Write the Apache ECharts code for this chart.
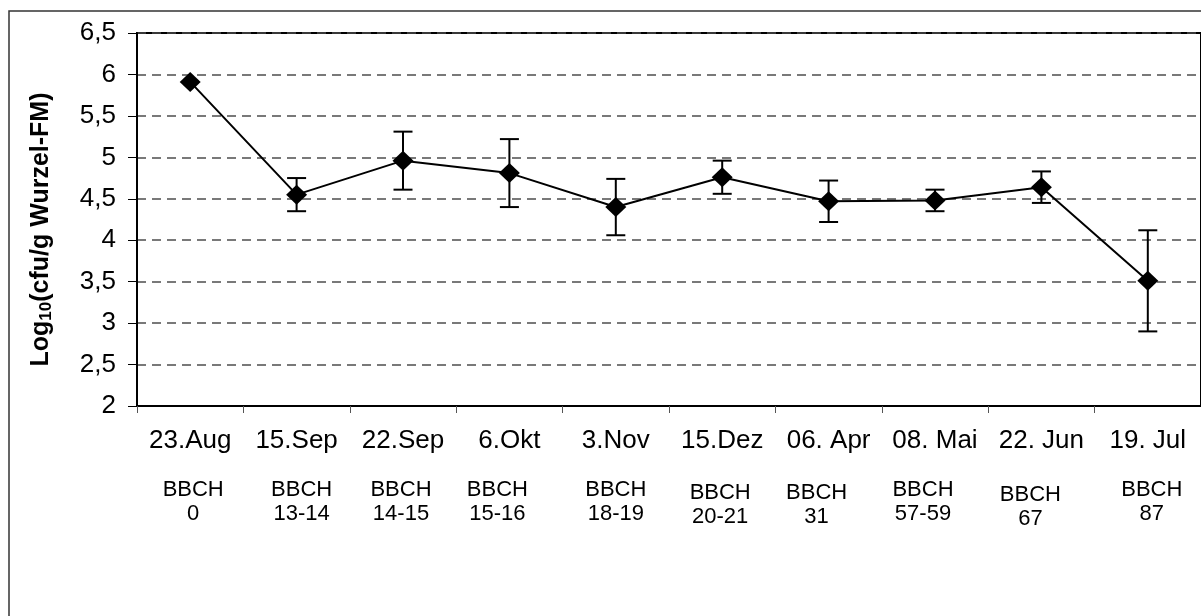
<!DOCTYPE html>
<html>
<head>
<meta charset="utf-8">
<script src="https://cdn.jsdelivr.net/npm/echarts@6/dist/echarts.min.js"></script>
<style>
  html, body { margin: 0; padding: 0; background: #fff; overflow: hidden; }
  #chart { width: 1201px; height: 616px; }
</style>
</head>
<body>
<div id="chart"></div>
<script>
// Sampling dates and growth stages
const dates = ['23.Aug', '15.Sep', '22.Sep', '6.Okt', '3.Nov', '15.Dez', '06. Apr', '08. Mai', '22. Jun', '19. Jul'];
const stages = ['0', '13-14', '14-15', '15-16', '18-19', '20-21', '31', '57-59', '67', '87'];

// Log10 cfu per g root fresh mass, with error bar half-widths
const logCfu = [5.91, 4.55, 4.96, 4.81, 4.40, 4.76, 4.47, 4.48, 4.64, 3.51];
const errBar = [null, 0.20, 0.35, 0.41, 0.34, 0.20, 0.25, 0.13, 0.19, 0.61];

// Value axis range
const yMin = 2;
const yMax = 6.5;
const yStep = 0.5;

// Small per-label nudges of the BBCH captions (px)
const stageDx = [3, 5, -2, -12, 0, -2, -12, -12, -11, 4];
const stageDy = [0, 0, 0, 0, 0, 3, 3, 0, 5, 0];

const FONT = '"Liberation Sans", Arial, sans-serif';

const chart = echarts.init(document.getElementById('chart'), null, { renderer: 'canvas' });

const errData = [];
errBar.forEach((e, i) => {
  if (e != null) errData.push([i, logCfu[i] - e, logCfu[i] + e]);
});

const frame = {
  id: 'frame',
  type: 'rect',
  silent: true,
  z: -10,
  shape: { x: 9, y: 11, width: 1400, height: 800 },
  style: { fill: 'none', stroke: '#333', lineWidth: 1.5 }
};

const option = {
  animation: false,
  backgroundColor: '#fff',
  grid: {
    left: 137, top: 33, right: -3, bottom: 210,
    show: true, borderColor: '#000', borderWidth: 2, backgroundColor: 'transparent'
  },
  xAxis: {
    type: 'category',
    data: dates,
    boundaryGap: true,
    axisLine: { show: true, lineStyle: { color: '#000', width: 2 } },
    axisTick: { show: true, alignWithLabel: false, length: 7, lineStyle: { color: '#555', width: 1 } },
    axisLabel: { interval: 0, margin: 22, fontFamily: FONT, fontSize: 26, color: '#000' },
    splitLine: { show: false }
  },
  yAxis: {
    type: 'value',
    min: yMin, max: yMax, interval: yStep,
    name: '{a|Log}{s|10}{a|(cfu/g Wurzel-FM)}',
    nameLocation: 'middle',
    nameRotate: 90,
    nameGap: 82,
    nameTextStyle: {
      padding: [0, 20, 0, 0],
      rich: {
        a: { fontFamily: FONT, fontSize: 25, fontWeight: 'bold', color: '#000', lineHeight: 28 },
        s: { fontFamily: FONT, fontSize: 17, fontWeight: 'bold', color: '#000', verticalAlign: 'bottom', lineHeight: 22 }
      }
    },
    axisLine: { show: true, lineStyle: { color: '#000', width: 2 } },
    axisTick: { show: true, inside: false, length: 9, lineStyle: { color: '#000', width: 1 } },
    axisLabel: {
      margin: 21, fontFamily: FONT, fontSize: 26, color: '#000',
      formatter: v => String(v).replace('.', ',')
    },
    splitLine: { show: true, lineStyle: { color: '#4d4d4d', width: 1.5, type: [9, 6] } }
  },
  series: [
    {
      type: 'custom',
      name: 'Fehler',
      z: 2,
      data: errData,
      encode: { x: 0, y: [1, 2] },
      renderItem: (params, api) => {
        const i = api.value(0);
        const lo = api.coord([i, api.value(1)]);
        const hi = api.coord([i, api.value(2)]);
        const hw = 9.5;
        const st = { stroke: '#000', lineWidth: 2 };
        return {
          type: 'group',
          children: [
            { type: 'line', shape: { x1: hi[0], y1: hi[1], x2: lo[0], y2: lo[1] }, style: st },
            { type: 'line', shape: { x1: hi[0] - hw, y1: hi[1], x2: hi[0] + hw, y2: hi[1] }, style: st },
            { type: 'line', shape: { x1: lo[0] - hw, y1: lo[1], x2: lo[0] + hw, y2: lo[1] }, style: st }
          ]
        };
      }
    },
    {
      type: 'line',
      name: 'Wurzel',
      z: 3,
      data: logCfu,
      symbol: 'diamond',
      symbolSize: [21, 20],
      itemStyle: { color: '#000' },
      lineStyle: { color: '#000', width: 2 }
    }
  ],
  graphic: [frame]
};

chart.setOption(option);

// BBCH captions under each date, placed from the category axis
const baseY = chart.convertToPixel({ yAxisIndex: 0 }, yMin) + 72;
const captions = stages.map((s, i) => ({
  id: 'bbch' + i,
  type: 'text',
  silent: true,
  x: chart.convertToPixel({ xAxisIndex: 0 }, i) + stageDx[i],
  y: baseY + stageDy[i],
  style: {
    text: 'BBCH\n' + s,
    fontFamily: FONT,
    fontSize: 22,
    lineHeight: 24,
    fill: '#000',
    align: 'center',
    verticalAlign: 'top'
  }
}));
chart.setOption({ graphic: [frame].concat(captions) });
</script>
</body>
</html>
